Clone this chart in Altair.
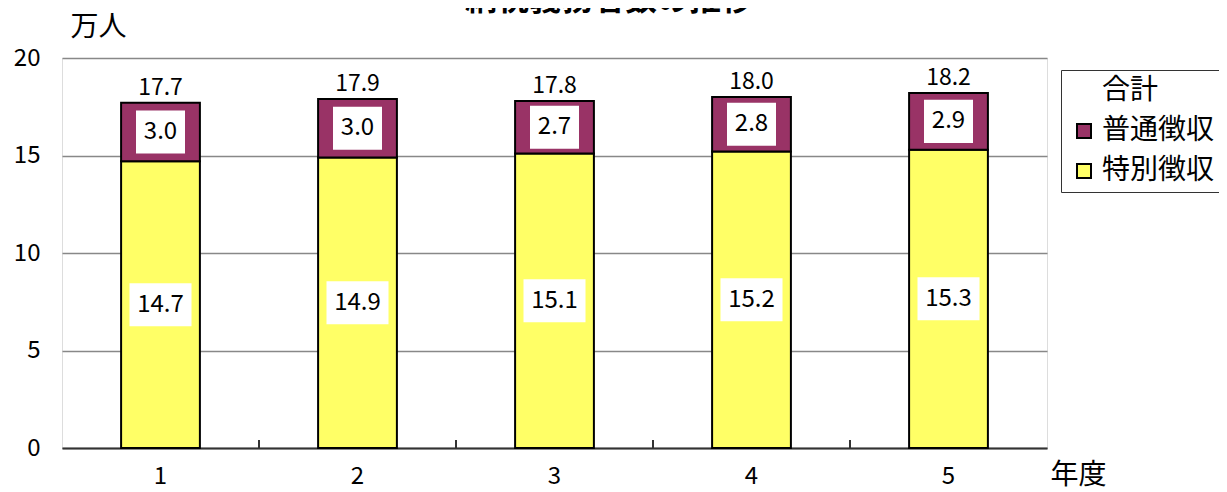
import altair as alt
import pandas as pd

# ---- data ----
years = ["1", "2", "3", "4", "5"]
tokubetsu = [14.7, 14.9, 15.1, 15.2, 15.3]   # 特別徴収
futsu = [3.0, 3.0, 2.7, 2.8, 2.9]            # 普通徴収
totals = [17.7, 17.9, 17.8, 18.0, 18.2]      # 合計
legend_names = ["合計", "普通徴収", "特別徴収"]
fill_colors = ["transparent", "#993366", "#FFFF66"]
stroke_colors = ["transparent", "black", "black"]
title_text = "納税義務者数の推移"

FONT = "Noto Sans CJK JP"
W, H = 985, 390

rows = []
for i, y in enumerate(years):
    rows.append({"year": y, "type": "特別徴収", "value": tokubetsu[i], "ord": 0})
    rows.append({"year": y, "type": "普通徴収", "value": futsu[i], "ord": 1})
df = pd.DataFrame(rows)
tot = pd.DataFrame({"year": years, "total": totals})
tick_df = pd.DataFrame({"year": years[:-1]})
title_df = pd.DataFrame({"t": [title_text]})

xscale = alt.Scale(domain=years, paddingInner=0.6, paddingOuter=0.3)
yscale = alt.Scale(domain=[0, 20], nice=False)

legend = alt.Legend(
    title=None, orient="none", legendX=999, legendY=12, direction="vertical",
    labelFontSize=28, labelFont=FONT, labelColor="black",
    symbolType="square", symbolSize=196, symbolStrokeWidth=2,
    symbolOffset=2, labelOffset=4, rowPadding=12, padding=7,
    strokeColor="#333333", fillColor="white",
)

xaxis = alt.Axis(
    title="年度", labelAngle=0, labelFontSize=24, labelFont=FONT, labelColor="black",
    ticks=False, tickSize=0, labelPadding=28, labelBaseline="middle",
    domainColor="#333333", domainWidth=2, grid=False,
    titleX=988, titleY=27, titleAlign="left", titleBaseline="middle",
    titleFontSize=28, titleFontWeight="normal", titleFont=FONT, titleColor="black",
)
yaxis = alt.Axis(
    title="万人", values=[0, 5, 10, 15, 20], labelFontSize=24, labelFont=FONT,
    labelColor="black", ticks=False, tickSize=0, labelPadding=22, domain=False,
    grid=True, gridColor="#888888", gridWidth=1.5,
    titleAngle=0, titleX=8, titleY=-31, titleAlign="left", titleBaseline="middle",
    titleFontSize=28, titleFontWeight="normal", titleFont=FONT, titleColor="black",
)

base = alt.Chart(df).transform_stack(
    stack="value", groupby=["year"], as_=["y0", "y1"], sort=[alt.SortField("ord")]
).transform_calculate(mid="(datum.y0 + datum.y1) / 2")

bars = base.mark_bar(strokeWidth=2).encode(
    x=alt.X("year:N", scale=xscale, axis=xaxis),
    y=alt.Y("y0:Q", scale=yscale, axis=yaxis),
    y2="y1:Q",
    fill=alt.Fill("type:N", scale=alt.Scale(domain=legend_names, range=fill_colors), legend=legend),
    stroke=alt.Stroke("type:N", scale=alt.Scale(domain=legend_names, range=stroke_colors), legend=legend),
)

box_top = base.transform_filter("datum.type == '普通徴収'").mark_point(
    shape="M-1,-0.878H1V0.878H-1Z", size=2401, filled=True, fill="white", opacity=1, strokeWidth=0
).encode(x=alt.X("year:N", scale=xscale), y=alt.Y("mid:Q", scale=yscale))

box_bot = base.transform_filter("datum.type == '特別徴収'").mark_point(
    shape="M-1,-0.694H1V0.694H-1Z", size=3844, filled=True, fill="white", opacity=1, strokeWidth=0
).encode(x=alt.X("year:N", scale=xscale), y=alt.Y("mid:Q", scale=yscale))

seg_text = base.mark_text(fontSize=24, font=FONT, color="black", baseline="middle").encode(
    x=alt.X("year:N", scale=xscale),
    y=alt.Y("mid:Q", scale=yscale),
    text=alt.Text("value:Q", format=".1f"),
)

tot_text = alt.Chart(tot).mark_text(
    fontSize=23, font=FONT, color="black", baseline="alphabetic", dy=-8
).encode(
    x=alt.X("year:N", scale=xscale),
    y=alt.Y("total:Q", scale=yscale),
    text=alt.Text("total:Q", format=".1f"),
)

tick_rules = alt.Chart(tick_df).mark_rule(xOffset=98.5, color="#333333", strokeWidth=2).encode(
    x=alt.X("year:N", scale=xscale),
    y=alt.value(H - 8),
    y2=alt.value(H),
)

title_mark = alt.Chart(title_df).mark_text(
    fontSize=32, font=FONT, fontWeight="bold", color="black", baseline="alphabetic"
).encode(x=alt.value(547), y=alt.value(-48), text="t:N")

chart = alt.layer(bars, tick_rules, box_top, box_bot, seg_text, tot_text, title_mark).properties(
    width=W, height=H,
    autosize=alt.AutoSizeParams(type="none"),
    padding={"left": 54, "top": 50, "right": 172, "bottom": 44},
).configure_view(stroke="#888888", strokeWidth=2).configure(font=FONT, background="white")

chart.save("out.html", embed_options={"renderer": "svg", "actions": False})
